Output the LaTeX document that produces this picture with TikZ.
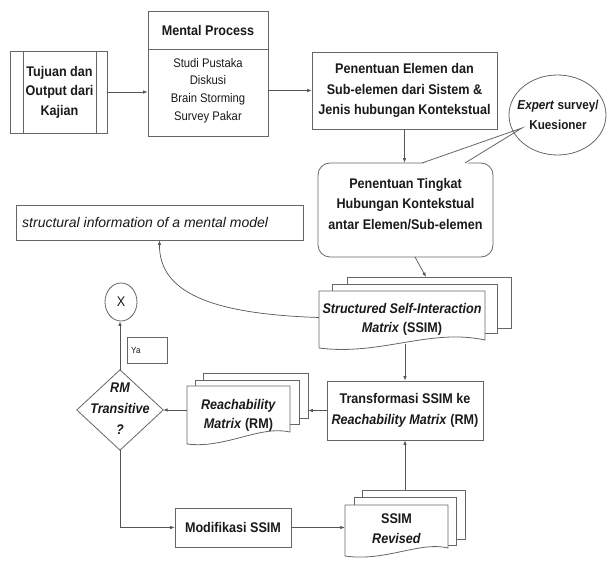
\documentclass[tikz,border=0pt]{standalone}
\usepackage{fontspec}
\setmainfont{Liberation Sans}
\newfontfamily\nf[FakeStretch=0.9]{Liberation Sans}
\usetikzlibrary{arrows.meta,shapes.geometric}
\definecolor{bord}{HTML}{666666}
\definecolor{ln}{HTML}{555555}
\definecolor{txt}{HTML}{1A1A1A}
\begin{document}
\begin{tikzpicture}[x=1pt,y=-1pt,
  every node/.style={inner sep=0pt, text=txt},
  box/.style={draw=bord, line width=0.8pt, fill=white},
  bt/.style={font=\nf\bfseries\fontsize{14}{20.5}\selectfont, align=center},
  rt/.style={font=\nf\fontsize{12.5}{17.7}\selectfont, align=center},
  conn/.style={draw=ln, line width=0.7pt, -{Latex[length=4.5pt,width=3.5pt]}},
]
\useasboundingbox (0,0) rectangle (611,561);

% Tujuan (predefined process)
\node[box, minimum width=97pt, minimum height=82pt] (tuj) at (58.5,92) {};
\draw[bord, line width=0.8pt] (23,51) -- (23,133) (96,51) -- (96,133);
\node[bt, font=\nf\bfseries\fontsize{14}{19.5}\selectfont] at (59.5,92) {Tujuan dan\\Output dari\\Kajian};

% Mental Process
\node[box, minimum width=120pt, minimum height=125pt] (mp) at (208,73.5) {};
\draw[bord, line width=0.8pt] (148,49) -- (268,49);
\node[bt] at (208,30) {Mental Process};
\node[rt] at (208,90.5) {Studi Pustaka\\Diskusi\\Brain Storming\\Survey Pakar};

% Penentuan Elemen
\node[box, bt, minimum width=185pt, minimum height=77pt] (pe) at (404.5,90.5) {Penentuan Elemen dan\\Sub-elemen dari Sistem \&\\Jenis hubungan Kontekstual};

% Callout (Penentuan Tingkat)
\node[box, rounded corners=12pt, minimum width=175pt, minimum height=94pt] (pt) at (405.5,210) {};
\fill[white] (421,164.2) -- (522,128) -- (466,164.2) -- cycle;
\draw[bord, line width=0.8pt, line join=miter] (422,163) -- (522,128) -- (465,163);
\node[bt] at (405.5,204) {Penentuan Tingkat\\Hubungan Kontekstual\\antar Elemen/Sub-elemen};

% Expert survey ellipse
\node[draw=bord, line width=0.8pt, ellipse, minimum width=97pt, minimum height=80pt] (exp) at (557.5,115) {};
\node[bt, font=\nf\bfseries\fontsize{13}{20}\selectfont] at (558,115) {\textit{Expert} survey/\\Kuesioner};

% structural information
\node[box, minimum width=287pt, minimum height=35pt] (si) at (159.5,222.5) {};
\node[anchor=west, font=\fontsize{14}{16}\selectfont\itshape] at (22,222.5) {structural information of a mental model};

% SSIM stack
\node[box, minimum width=164pt, minimum height=51pt] (ssim3) at (429,302.5) {};
\node[box, minimum width=165pt, minimum height=49pt] (ssim2) at (414.5,308.5) {};
\node[minimum width=166pt, minimum height=53pt] (ssim) at (402,317.5) {};
\draw[box] (319,291) -- (485,291) -- (485,340) .. controls (430,328) and (380,356) .. (319,348) -- cycle;
\node[bt, font=\nf\bfseries\fontsize{14}{19}\selectfont] at (402,319) {\textit{Structured Self-Interaction}\\\textit{Matrix} (SSIM)};

% Transformasi
\node[box, bt, minimum width=156pt, minimum height=59pt] (tr) at (405,410.5) {Transformasi SSIM ke\\\textit{Reachability Matrix} (RM)};

% RM stack
\node[box, minimum width=105pt, minimum height=45pt] (rm3) at (255.5,395.5) {};
\node[box, minimum width=104pt, minimum height=44pt] (rm2) at (247,402) {};
\node[minimum width=103pt, minimum height=51pt] (rm) at (238.5,411.5) {};
\draw[box] (187,386) -- (290,386) -- (290,432) .. controls (260,425) and (225,449) .. (187,444) -- cycle;
\node[bt, font=\nf\bfseries\fontsize{14}{19}\selectfont] at (238.5,415) {\textit{Reachability}\\\textit{Matrix} (RM)};

% Diamond
\node[minimum width=86pt, minimum height=80pt] (dia) at (120,410) {};
\draw[box] (dia.north) -- (dia.east) -- (dia.south) -- (dia.west) -- cycle;
\node[bt, font=\nf\bfseries\itshape\fontsize{14}{21}\selectfont] at (120,409) {RM\\Transitive\\?};

% X circle
\node[draw=bord, line width=0.8pt, ellipse, minimum width=32pt, minimum height=38pt, font=\nf\fontsize{14}{16}\selectfont] (xc) at (121,302) {X};

% Ya
\node[box, minimum width=40pt, minimum height=26pt] (ya) at (147,350) {};
\node[anchor=west, font=\nf\fontsize{9}{10}\selectfont] at (131,350) {Ya};

% Modifikasi
\node[box, bt, minimum width=116pt, minimum height=39pt] (mod) at (233,527.5) {Modifikasi SSIM};

% SSIM Revised stack
\node[box, minimum width=103pt, minimum height=49pt] (rev3) at (413.5,514.5) {};
\node[box, minimum width=102pt, minimum height=48pt] (rev2) at (405,521) {};
\node[minimum width=103pt, minimum height=47pt] (rev) at (396.5,527.5) {};
\draw[box] (345,505) -- (448,505) -- (448,548) .. controls (420,541) and (385,562) .. (345,556) -- cycle;
\node[bt, font=\nf\bfseries\fontsize{14}{20}\selectfont] at (396.5,528.5) {SSIM\\\textit{Revised}};

% coordinates for diagonal connector
\coordinate (ptb) at (415,257);
\coordinate (s3t) at (426,277);

% Connectors
\draw[conn] (tuj.east) -- (tuj.east -| mp.west);
\draw[conn] (pe.west -| mp.east) -- (pe.west);
\draw[conn] (pe.south) -- (pe.south |- pt.north);
\draw[conn] (ptb) -- (s3t);
\draw[conn] (ssim.west) .. controls (210,314) and (159,292) .. (si.south);
\draw[conn] (tr.north |- ssim.south) -- (tr.north);
\draw[conn] (tr.west) -- (tr.west -| rm3.east);
\draw[conn] (dia.east -| rm.west) -- (dia.east);
\draw[conn] (dia.north) -- (dia.north |- xc.south);
\draw[conn] (dia.south) |- (mod.west);
\draw[conn] (mod.east) -- (mod.east -| rev.west);
\draw[conn] (tr.south |- rev3.north) -- (tr.south);
\end{tikzpicture}
\end{document}
